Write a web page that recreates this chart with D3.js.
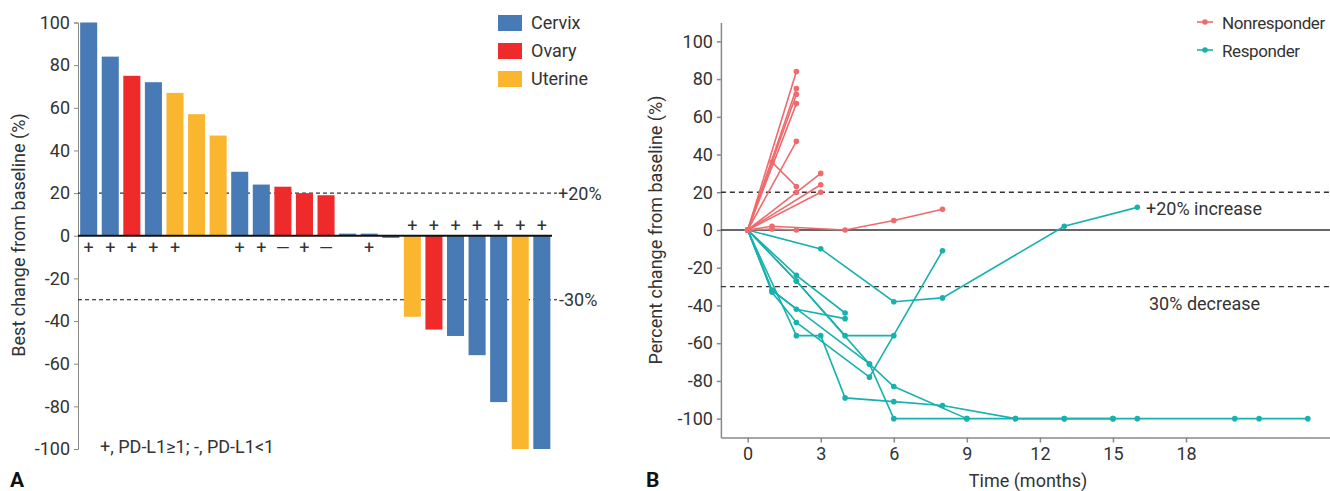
<!DOCTYPE html>
<html>
<head>
<meta charset="utf-8">
<title>Tumour response</title>
<script src="https://d3js.org/d3.v7.min.js"></script>
<style>
  body { margin: 0; background: #fff; }
  text { font-family: Roboto, "Liberation Sans", sans-serif; fill: #333; }
  .axis path, .axis line { stroke: #888; }
  .axis text { font-size: 18px; fill: #333; }
</style>
</head>
<body>
<script>
// ---- panel A : waterfall ----
var patients = d3.range(1, 23).map(String);
var bestChange = [100, 84, 75, 72, 67, 57, 47, 30, 24, 23, 20, 19, 1, 1, -1, -38, -44, -47, -56, -78, -100, -100];
var cancerType = ["Cervix", "Cervix", "Ovary", "Cervix", "Uterine", "Uterine", "Uterine", "Cervix", "Cervix", "Ovary", "Ovary",
                  "Ovary", "Cervix", "Cervix", "Cervix", "Uterine", "Ovary", "Cervix", "Cervix", "Cervix", "Uterine", "Cervix"];
var pdl1 = ["+", "+", "+", "+", "+", "", "", "+", "+", "-", "+", "-", "", "+", "", "+", "+", "+", "+", "+", "+", "+"];
var typeNames = ["Cervix", "Ovary", "Uterine"];
var typeColors = ["#487bb5", "#ee2a2b", "#fbb630"];
var waterfallTicks = [100, 80, 60, 40, 20, 0, -20, -40, -60, -80, -100];

// ---- panel B : spider plot ----
var nonresponderMonths = [[0, 2], [0, 2], [0, 2], [0, 2], [0, 2], [0, 1, 2], [0, 2, 3], [0, 3], [0, 3], [0, 1, 4, 6, 8], [0, 1, 2]];
var nonresponderValues = [[0, 84], [0, 75], [0, 72], [0, 67], [0, 47], [0, 36, 23], [0, 20, 30], [0, 24], [0, 20], [0, 2, 0, 5, 11], [0, 0.5, 0]];
var responderMonths = [
  [0, 3, 6, 8, 13, 16],
  [0, 2, 4],
  [0, 1, 2, 4],
  [0, 2, 4, 6],
  [0, 1, 2, 5, 8],
  [0, 2, 3, 4, 6, 8, 11, 13, 15],
  [0, 2, 5, 6, 9, 11, 13, 15, 16, 20, 21, 23],
  [0, 1, 5, 6, 9]
];
var responderValues = [
  [0, -10, -38, -36, 2, 12],
  [0, -24, -44],
  [0, -32, -42, -47],
  [0, -27, -56, -56],
  [0, -33, -49, -78, -11],
  [0, -56, -56, -89, -91, -93, -100, -100, -100],
  [0, -27, -71, -100, -100, -100, -100, -100, -100, -100, -100, -100],
  [0, -32, -71, -83, -100]
];
var groupNames = ["Nonresponder", "Responder"];
var groupColors = ["#ef6a6c", "#17b1ae"];
var monthTicks = [0, 3, 6, 9, 12, 15, 18];
var spiderTicks = [100, 80, 60, 40, 20, 0, -20, -40, -60, -80, -100];

var svg = d3.select("body").append("svg")
    .attr("width", 1330)
    .attr("height", 491);

// ================= Panel A =================
var xA = d3.scaleBand().domain(patients).range([78, 552.5]).paddingInner(0.21).paddingOuter(0.1);
var yA = d3.scaleLinear().domain([-100, 100]).range([449, 22.5]);
var colorA = d3.scaleOrdinal().domain(typeNames).range(typeColors);

var axA = svg.append("g")
    .attr("class", "axis")
    .attr("transform", "translate(78,0)")
    .call(d3.axisLeft(yA).tickValues(waterfallTicks).tickSize(4).tickPadding(4).tickFormat(function(d) { return String(d); }));
axA.select(".domain").attr("stroke", "#999");

// reference lines
svg.append("line")
    .attr("x1", 78).attr("x2", 557)
    .attr("y1", yA(20)).attr("y2", yA(20))
    .attr("stroke", "#333").attr("stroke-width", 1.2).attr("stroke-dasharray", "4,3");
svg.append("line")
    .attr("x1", 78).attr("x2", 557)
    .attr("y1", yA(-30)).attr("y2", yA(-30))
    .attr("stroke", "#111").attr("stroke-width", 1.2).attr("stroke-dasharray", "4,3");
svg.append("text").attr("x", 558).attr("y", yA(20) + 7).style("font-size", "18px").text("+20%");
svg.append("text").attr("x", 559).attr("y", yA(-30) + 6).style("font-size", "18px").text("-30%");

// bars
svg.selectAll("rect.bar")
    .data(bestChange)
  .enter().append("rect")
    .attr("class", "bar")
    .attr("x", function(d, i) { return xA(patients[i]); })
    .attr("width", xA.bandwidth())
    .attr("y", function(d) { return yA(Math.max(0, d)); })
    .attr("height", function(d) { return Math.abs(yA(d) - yA(0)); })
    .attr("fill", function(d, i) { return colorA(cancerType[i]); });

// zero line
svg.append("line")
    .attr("x1", 78).attr("x2", 552)
    .attr("y1", yA(0)).attr("y2", yA(0))
    .attr("stroke", "#111").attr("stroke-width", 2);

// PD-L1 markers
svg.selectAll("text.pd")
    .data(pdl1)
  .enter().append("text")
    .attr("class", "pd")
    .attr("x", function(d, i) { return xA(patients[i]) + xA.bandwidth() / 2; })
    .attr("y", function(d, i) { return bestChange[i] < -5 ? yA(0) - 4 : yA(0) + 18; })
    .attr("text-anchor", "middle")
    .style("font-size", "18px")
    .text(function(d) { return d === "-" ? "\u2014" : d; });

// legend A
var legA = svg.append("g").selectAll("g")
    .data(typeNames)
  .enter().append("g")
    .attr("transform", function(d, i) { return "translate(498," + (15 + i * 28) + ")"; });
legA.append("rect").attr("width", 24).attr("height", 16).attr("fill", function(d) { return colorA(d); });
legA.append("text").attr("x", 33).attr("y", 14).style("font-size", "18px").text(function(d) { return d; });

svg.append("text")
    .attr("x", 100).attr("y", 453)
    .style("font-size", "18px")
    .text("+, PD-L1\u22651; -, PD-L1<1");

svg.append("text")
    .attr("transform", "translate(25,235) rotate(-90)")
    .attr("text-anchor", "middle")
    .style("font-size", "18px")
    .text("Best change from baseline (%)");

svg.append("text")
    .attr("x", 10).attr("y", 487)
    .style("font-size", "21px").style("font-weight", "bold").style("fill", "#111")
    .text("A");

// ================= Panel B =================
var xB = d3.scaleLinear().domain([-1.1, 23.9]).range([720.9, 1329.7]);
var yB = d3.scaleLinear().domain([-110, 110]).range([437.5, 22.5]);

var axBy = svg.append("g")
    .attr("class", "axis")
    .attr("transform", "translate(720.9,0)")
    .call(d3.axisLeft(yB).tickValues(spiderTicks).tickSize(4).tickPadding(4).tickSizeOuter(0).tickFormat(function(d) { return String(d); }));
var axBx = svg.append("g")
    .attr("class", "axis")
    .attr("transform", "translate(0,437.5)")
    .call(d3.axisBottom(xB).tickValues(monthTicks).tickSize(5).tickPadding(5).tickSizeOuter(0));
axBy.selectAll("path, line").attr("stroke", "#333").attr("stroke-width", 1.5);
axBx.selectAll("path, line").attr("stroke", "#333").attr("stroke-width", 1.5);

svg.append("line")
    .attr("x1", 720.9).attr("x2", 1330)
    .attr("y1", yB(0)).attr("y2", yB(0))
    .attr("stroke", "#333").attr("stroke-width", 1.5);
svg.append("line")
    .attr("x1", 720.9).attr("x2", 1330)
    .attr("y1", yB(20)).attr("y2", yB(20))
    .attr("stroke", "#333").attr("stroke-width", 1.3).attr("stroke-dasharray", "5,4");
svg.append("line")
    .attr("x1", 720.9).attr("x2", 1330)
    .attr("y1", yB(-30)).attr("y2", yB(-30))
    .attr("stroke", "#333").attr("stroke-width", 1.3).attr("stroke-dasharray", "5,4");
svg.append("text").attr("x", 1146).attr("y", yB(11) + 6).style("font-size", "18px").text("+20% increase");
svg.append("text").attr("x", 1149).attr("y", yB(-39) + 6).style("font-size", "18px").text("30% decrease");

var lineB = d3.line()
    .x(function(d) { return xB(d[0]); })
    .y(function(d) { return yB(d[1]); });

function drawGroup(months, values, color) {
    var series = months.map(function(m, i) {
        return m.map(function(t, j) { return [t, values[i][j]]; });
    });
    var g = svg.append("g");
    g.selectAll("path")
        .data(series)
      .enter().append("path")
        .attr("d", lineB)
        .attr("fill", "none")
        .attr("stroke", color)
        .attr("stroke-width", 1.6);
    g.selectAll("circle")
        .data(d3.merge(series))
      .enter().append("circle")
        .attr("cx", function(d) { return xB(d[0]); })
        .attr("cy", function(d) { return yB(d[1]); })
        .attr("r", 2.8)
        .attr("fill", color);
}
drawGroup(responderMonths, responderValues, groupColors[1]);
drawGroup(nonresponderMonths, nonresponderValues, groupColors[0]);

// legend B
var legB = svg.append("g").selectAll("g")
    .data(groupNames)
  .enter().append("g")
    .attr("transform", function(d, i) { return "translate(1197," + (22 + i * 28) + ")"; });
legB.append("line").attr("x1", 0).attr("x2", 16)
    .attr("stroke", function(d, i) { return groupColors[i]; }).attr("stroke-width", 1.6);
legB.append("circle").attr("cx", 8).attr("r", 2.8).attr("fill", function(d, i) { return groupColors[i]; });
legB.append("text").attr("x", 25).attr("y", 7)
    .style("font-size", "17px").style("letter-spacing", "-0.4px")
    .text(function(d) { return d; });

svg.append("text")
    .attr("transform", "translate(662,230) rotate(-90)")
    .attr("text-anchor", "middle")
    .style("font-size", "18px")
    .text("Percent change from baseline (%)");

svg.append("text")
    .attr("x", 1028).attr("y", 487)
    .attr("text-anchor", "middle")
    .style("font-size", "18px")
    .text("Time (months)");

svg.append("text")
    .attr("x", 646).attr("y", 487)
    .style("font-size", "21px").style("font-weight", "bold").style("fill", "#111")
    .text("B");
</script>
</body>
</html>
